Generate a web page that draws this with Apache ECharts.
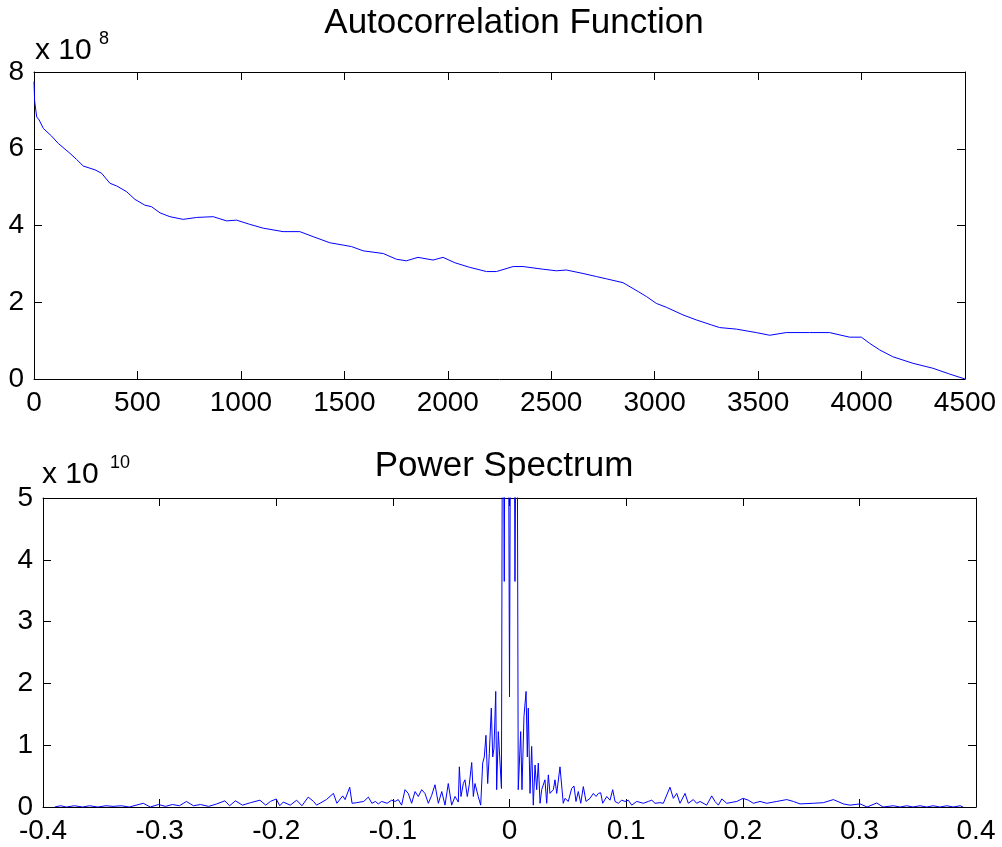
<!DOCTYPE html>
<html>
<head>
<meta charset="utf-8">
<script src="https://cdn.jsdelivr.net/npm/echarts@6/dist/echarts.min.js"></script>
<style>
  html, body { margin: 0; padding: 0; background: #fff; }
  #chart { width: 1002px; height: 847px; }
</style>
</head>
<body>
<div id="chart"></div>
<script>
// autocorrelation (lag, value x 1e8)
var acfLag = [0, 3, 13, 25, 45, 85, 117, 174, 206, 238, 295, 327, 367, 400, 448, 488, 536, 568, 609, 657,
  721, 786, 866, 931, 979, 1043, 1108, 1204, 1285, 1349, 1430, 1494, 1535, 1591, 1688, 1752, 1800, 1856,
  1929, 1977, 2034, 2106, 2187, 2235, 2316, 2364, 2461, 2525, 2573, 2654, 2718, 2767, 2847, 2920, 2960,
  3008, 3056, 3137, 3201, 3274, 3314, 3395, 3491, 3556, 3636, 3749, 3845, 3942, 3999, 4039, 4087, 4151,
  4248, 4345, 4425, 4500];
var acfValue = [7.75, 7.25, 6.83, 6.75, 6.53, 6.33, 6.14, 5.88, 5.72, 5.55, 5.45, 5.36, 5.10, 5.03, 4.88, 4.68, 4.53, 4.49, 4.33, 4.23,
  4.16, 4.21, 4.23, 4.12, 4.14, 4.03, 3.93, 3.84, 3.84, 3.71, 3.55, 3.49, 3.45, 3.34, 3.27, 3.12, 3.08, 3.17,
  3.10, 3.17, 3.03, 2.91, 2.80, 2.80, 2.93, 2.93, 2.86, 2.82, 2.84, 2.75, 2.67, 2.61, 2.51, 2.28, 2.15,
  1.97, 1.87, 1.67, 1.54, 1.41, 1.34, 1.30, 1.21, 1.14, 1.21, 1.21, 1.21, 1.09, 1.09, 0.93, 0.76, 0.58,
  0.41, 0.28, 0.13, 0.0];

// power spectrum (frequency, value x 1e10)
var specFreq = [-0.390, -0.385, -0.380, -0.373, -0.366, -0.360, -0.353, -0.346, -0.340, -0.333, -0.326, -0.314, -0.308,
  -0.301, -0.295, -0.289, -0.283, -0.277, -0.271, -0.265, -0.258, -0.251, -0.244, -0.240, -0.235, -0.229,
  -0.222, -0.214, -0.209, -0.205, -0.200, -0.197, -0.194, -0.188, -0.1825, -0.178, -0.1726, -0.168,
  -0.1654, -0.157, -0.151, -0.148, -0.143, -0.141, -0.137, -0.135, -0.131, -0.125, -0.121, -0.118,
  -0.115, -0.1125, -0.1096, -0.105, -0.101, -0.098, -0.0954, -0.0925, -0.0896, -0.0868, -0.0839, -0.081,
  -0.0782, -0.0753, -0.0725, -0.0696, -0.0667, -0.0639, -0.061, -0.0581, -0.0553, -0.0525, -0.0496,
  -0.0467, -0.0439, -0.043, -0.0416, -0.0396, -0.0382, -0.0362, -0.0345, -0.0324, -0.031, -0.0296,
  -0.0268, -0.0247, -0.023, -0.0216, -0.0202, -0.0187, -0.0173, -0.0156, -0.0144, -0.0133, -0.0118,
  -0.011, -0.0096, -0.0081, -0.0069, -0.0058, -0.0045, -0.003, -0.0015, 0, 0.0015, 0.003, 0.0047,
  0.0063, 0.0075, 0.0096, 0.0107, 0.0124, 0.0142, 0.0153, 0.0161, 0.0176, 0.019, 0.0204, 0.0219,
  0.0233, 0.0247, 0.0262, 0.0276, 0.0304, 0.0319, 0.0333, 0.0347, 0.0376, 0.039, 0.0405, 0.0433,
  0.0461, 0.0476, 0.0504, 0.0533, 0.0553, 0.057, 0.059, 0.0611, 0.0633, 0.0656, 0.069, 0.0719, 0.0742,
  0.0762, 0.0782, 0.0799, 0.0834, 0.0862, 0.0885, 0.0905, 0.0933, 0.0962, 0.099, 0.1019, 0.1048,
  0.1091, 0.1148, 0.119, 0.122, 0.1248, 0.129, 0.1319, 0.1376, 0.1405, 0.1434, 0.1462, 0.1505, 0.1533,
  0.1576, 0.1605, 0.1634, 0.1691, 0.1734, 0.1762, 0.1791, 0.182, 0.1863, 0.1949, 0.2003, 0.2048,
  0.2091, 0.2148, 0.2206, 0.2292, 0.2377, 0.2434, 0.2491, 0.2605, 0.2691, 0.2777, 0.2863, 0.292,
  0.3006, 0.3066, 0.3149, 0.3203, 0.3292, 0.335, 0.3406, 0.346, 0.352, 0.3578, 0.3632, 0.369, 0.375,
  0.3804, 0.3864, 0.389];
var specPower = [0.00, 0.02, 0.00, 0.02, 0.00, 0.02, 0.00, 0.02, 0.01, 0.02, 0.00, 0.06, 0.00,
  0.04, 0.01, 0.04, 0.02, 0.09, 0.02, 0.04, 0.01, 0.05, 0.10, 0.02, 0.10, 0.03,
  0.07, 0.11, 0.03, 0.09, 0.13, 0.02, 0.08, 0.03, 0.11, 0.02, 0.16, 0.09,
  0.03, 0.12, 0.22, 0.06, 0.18, 0.12, 0.32, 0.06, 0.07, 0.09, 0.16, 0.06,
  0.09, 0.05, 0.09, 0.06, 0.11, 0.09, 0.12, 0.03, 0.28, 0.22, 0.06, 0.25,
  0.17, 0.28, 0.22, 0.06, 0.19, 0.36, 0.06, 0.25, 0.03, 0.38, 0.03,
  0.17, 0.08, 0.65, 0.17, 0.38, 0.44, 0.17, 0.36, 0.72, 0.17, 0.38,
  0.17, 0.03, 0.71, 0.81, 1.16, 0.38, 0.87, 1.60, 0.81, 0.95, 1.87,
  0.28, 1.22, 1.22, 0.30, 9, 3.65, 12, 10, 1.78, 10, 12, 3.65,
  9, 0.28, 1.22, 0.28, 1.46, 1.87, 0.81, 1.60, 0.22, 0.98, 0.03, 0.68,
  0.28, 0.71, 0.06, 0.28, 0.44, 0.06, 0.52, 0.22, 0.28, 0.44, 0.22, 0.65,
  0.06, 0.14, 0.09, 0.30, 0.34, 0.09, 0.25, 0.06, 0.33, 0.09, 0.14, 0.22, 0.17,
  0.22, 0.23, 0.06, 0.17, 0.11, 0.28, 0.09, 0.06, 0.11, 0.09, 0.11, 0.03,
  0.09, 0.06, 0.09, 0.11, 0.06, 0.07, 0.06, 0.32, 0.14, 0.22, 0.06, 0.22, 0.06,
  0.12, 0.06, 0.09, 0.03, 0.18, 0.09, 0.03, 0.13, 0.06, 0.09, 0.14, 0.11,
  0.06, 0.09, 0.06, 0.09, 0.12, 0.09, 0.05, 0.06, 0.07, 0.12, 0.05, 0.03,
  0.05, 0.00, 0.065, 0.00, 0.02, 0.00, 0.02, 0.00, 0.02, 0.00, 0.02, 0.00, 0.02,
  0.00, 0.02, 0.00];

var myChart = echarts.init(document.getElementById('chart'));

var fontFam = 'Liberation Sans, Arial, Helvetica, sans-serif';
var black = '#000';

function pairs(xs, ys) {
  var out = [];
  for (var i = 0; i < xs.length; i++) out.push([xs[i], ys[i]]);
  return out;
}

var plain = function (v) { return String(Math.round(v * 10) / 10); };

// axis helper: box style with inward ticks
function axis(opt, showLabel) {
  var a = {
    type: 'value',
    axisLine: { show: true, onZero: false, lineStyle: { color: black, width: 1 } },
    axisTick: { show: true, inside: true, length: 8, lineStyle: { color: black } },
    splitLine: { show: false },
    axisLabel: { show: showLabel, color: black, fontSize: 28, fontFamily: fontFam, margin: 10, formatter: plain }
  };
  for (var k in opt) a[k] = opt[k];
  return a;
}

var option = {
  animation: false,
  backgroundColor: '#fff',
  title: [
    { text: 'Autocorrelation Function', left: 509, top: 1, textAlign: 'center',
      textStyle: { fontSize: 35, fontWeight: 'normal', color: black, fontFamily: fontFam } },
    { text: 'Power Spectrum', left: 499, top: 444, textAlign: 'center',
      textStyle: { fontSize: 35, fontWeight: 'normal', color: black, fontFamily: fontFam } }
  ],
  graphic: [
    { type: 'text', left: 35, top: 36, style: { text: 'x 10', fontSize: 30, fontFamily: fontFam, fill: black } },
    { type: 'text', left: 99, top: 30, style: { text: '8', fontSize: 18, fontFamily: fontFam, fill: black } },
    { type: 'text', left: 42, top: 460, style: { text: 'x 10', fontSize: 30, fontFamily: fontFam, fill: black } },
    { type: 'text', left: 110, top: 454, style: { text: '10', fontSize: 18, fontFamily: fontFam, fill: black } }
  ],
  grid: [
    { left: 34, top: 72, width: 931, height: 307, containLabel: false },
    { left: 43, top: 498, width: 933, height: 309, containLabel: false }
  ],
  xAxis: [
    axis({ gridIndex: 0, position: 'bottom', min: 0, max: 4500, interval: 500 }, true),
    axis({ gridIndex: 0, position: 'top', min: 0, max: 4500, interval: 500 }, false),
    axis({ gridIndex: 1, position: 'bottom', min: -0.4, max: 0.4, interval: 0.1 }, true),
    axis({ gridIndex: 1, position: 'top', min: -0.4, max: 0.4, interval: 0.1 }, false)
  ],
  yAxis: [
    axis({ gridIndex: 0, position: 'left', min: 0, max: 8, interval: 2 }, true),
    axis({ gridIndex: 0, position: 'right', min: 0, max: 8, interval: 2 }, false),
    axis({ gridIndex: 1, position: 'left', min: 0, max: 5, interval: 1 }, true),
    axis({ gridIndex: 1, position: 'right', min: 0, max: 5, interval: 1 }, false)
  ],
  series: [
    {
      name: 'Autocorrelation', type: 'line', xAxisIndex: 0, yAxisIndex: 0,
      data: pairs(acfLag, acfValue), showSymbol: false, clip: true,
      lineStyle: { color: '#0000ff', width: 1 }
    },
    {
      name: 'Power Spectrum', type: 'line', xAxisIndex: 2, yAxisIndex: 2,
      data: pairs(specFreq, specPower), showSymbol: false, clip: true,
      lineStyle: { color: '#0000ff', width: 1 }
    }
  ]
};

myChart.setOption(option);
window.onresize = myChart.resize;
</script>
</body>
</html>
